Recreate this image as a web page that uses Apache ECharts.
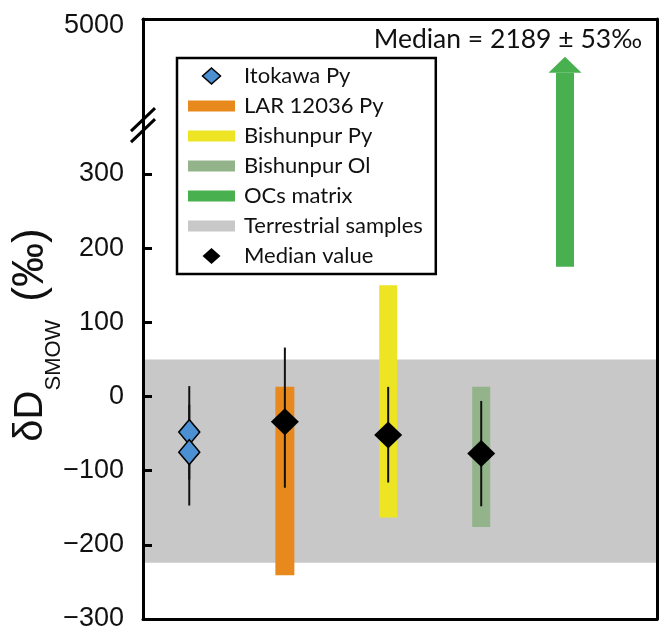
<!DOCTYPE html>
<html>
<head>
<meta charset="utf-8">
<script src="https://cdn.jsdelivr.net/npm/echarts@6/dist/echarts.min.js"></script>
<style>html,body{margin:0;padding:0;background:#fff}#c{width:660px;height:630px}</style>
</head>
<body>
<div id="c"></div>
<script>
// ---- data ----
const categories = ['Itokawa Py', 'LAR 12036 Py', 'Bishunpur Py', 'Bishunpur Ol', 'OCs matrix'];
const sampleX = [0.9, 2.76, 4.77, 6.58, 8.21];           // x position of each sample (axis units)
const itokawaY = [-48, -75];                              // Itokawa individual values
const itokawaErr = [[-112, 14], [-147, -11]];            // Itokawa error ranges
const rangeLAR = [-241, 13];
const rangeBishPy = [-163, 150];
const rangeBishOl = [-176, 13];
const ocsArrow = [175, 458];                               // arrow base and tip (display units)
const medianY = [-34, -52, -77];                           // LAR, Bishunpur Py, Bishunpur Ol
const medianErr = [[-123, 66], [-116, 13], [-148, -6]];
const terrestrial = [-224, 50];
const yTickValues = [-200, -100, 0, 100, 200, 300];
const yLabelValues = [-300, -200, -100, 0, 100, 200, 300, 500];
const yTopLabel = '5000';
const yBreakAt = 366;
const medianNote = 'Median = 2189 ± 53‰';

const C = {
  blue: '#4A90D2', orange: '#E8891E', yellow: '#EDE524', olive: '#93B48B',
  green: '#48B04F', gray: '#C8C8C8'
};

const chart = echarts.init(document.getElementById('c'));

function rangeRender(width) {
  return function (params, api) {
    const x = api.value(0), lo = api.value(1), hi = api.value(2);
    const p1 = api.coord([x, hi]), p2 = api.coord([x, lo]);
    return { type: 'rect', shape: { x: p1[0] - width / 2, y: p1[1], width: width, height: p2[1] - p1[1] },
      style: { fill: api.visual('color') } };
  };
}

const lineCol = '#111';
const errData = [
  [sampleX[0], itokawaErr[0][0], itokawaErr[0][1]],
  [sampleX[0], itokawaErr[1][0], itokawaErr[1][1]],
  [sampleX[1], medianErr[0][0], medianErr[0][1]],
  [sampleX[2], medianErr[1][0], medianErr[1][1]],
  [sampleX[3], medianErr[2][0], medianErr[2][1]]
];

const barIcon = 'path://M0,0h47v11h-47z';
const diaIcon = 'path://M0,-8L9,0L0,8L-9,0Z';

const option = {
  animation: false,
  grid: { left: 143, right: 3, top: 19, bottom: 11, show: false, containLabel: false, outerBoundsMode: 'none' },
  title: {
    text: medianNote, right: 13, top: 21,
    textStyle: { fontFamily: 'Lato', fontSize: 26.5, fontWeight: 'normal', color: '#111' }
  },
  legend: {
    orient: 'vertical', left: 177, top: 58,
    padding: [6, 13, 6, 11],
    itemWidth: 47, itemHeight: 16, itemGap: 6,
    backgroundColor: '#fff', borderColor: '#000', borderWidth: 2.5,
    selectedMode: false,
    textStyle: { fontFamily: 'Lato', fontSize: 22, color: '#111', lineHeight: 24, padding: [0, 0, 0, 4] },
    data: [
      { name: 'Itokawa Py', icon: diaIcon, itemStyle: { color: C.blue, borderColor: '#000', borderWidth: 1.5, opacity: 1 } },
      { name: 'LAR 12036 Py', icon: barIcon },
      { name: 'Bishunpur Py', icon: barIcon },
      { name: 'Bishunpur Ol', icon: barIcon },
      { name: 'OCs matrix', icon: barIcon },
      { name: 'Terrestrial samples', icon: barIcon },
      { name: 'Median value', icon: diaIcon, itemStyle: { color: '#000', borderWidth: 0, opacity: 1 } }
    ]
  },
  xAxis: [
    { type: 'value', min: 0, max: 10, position: 'bottom', z: 10,
      axisLine: { show: true, onZero: false, lineStyle: { color: '#000', width: 3 } },
      axisTick: { show: false }, axisLabel: { show: false }, splitLine: { show: false } },
    { type: 'value', min: 0, max: 10, position: 'top', z: 10,
      axisLine: { show: true, onZero: false, lineStyle: { color: '#000', width: 3 } },
      axisTick: { show: false }, axisLabel: { show: false }, splitLine: { show: false } }
  ],
  yAxis: [
    { type: 'value', min: -300, max: 509, interval: 100, position: 'left', z: 10,
      axisLine: { show: true, onZero: false, lineStyle: { color: '#000', width: 3 } },
      axisTick: { show: true, inside: true, length: 9, customValues: yTickValues, lineStyle: { color: '#000', width: 3 } },
      axisLabel: {
        show: true, margin: 19, customValues: yLabelValues,
        fontFamily: 'Liberation Sans', fontSize: 27, color: '#111',
        formatter: function (v) { return v === 500 ? yTopLabel : String(v).replace('-', '\u2212'); }
      },
      splitLine: { show: false },
      name: '{d|δD}{s|SMOW}{g|}{p|(‰)}',
      nameLocation: 'middle', nameGap: 78, nameRotate: 90, nameMoveOverlap: false,
      nameTextStyle: {
        padding: [0, 32, 0, 0],
        rich: {
          d: { fontFamily: 'Liberation Sans', fontSize: 40, color: '#111', verticalAlign: 'bottom', padding: [0, 0, 14, 0] },
          p: { fontFamily: 'Liberation Sans', fontSize: 44, color: '#111', verticalAlign: 'bottom', padding: [0, 0, 12, 0] },
          s: { fontFamily: 'Liberation Sans', fontSize: 22, color: '#111', verticalAlign: 'bottom' },
          g: { width: 18, height: 10 }
        }
      }
    },
    { type: 'value', min: -300, max: 509, interval: 100, position: 'right', z: 10,
      axisLine: { show: true, onZero: false, lineStyle: { color: '#000', width: 3 } },
      axisTick: { show: false }, axisLabel: { show: false }, splitLine: { show: false } }
  ],
  series: [
    { name: 'Terrestrial samples', type: 'custom', z: 1, itemStyle: { color: C.gray },
      renderItem: function (params, api) {
        const cs = params.coordSys;
        const pTop = api.coord([0, api.value(1)]), pBot = api.coord([0, api.value(0)]);
        return { type: 'rect', shape: { x: cs.x, y: pTop[1], width: cs.width, height: pBot[1] - pTop[1] },
          style: { fill: api.visual('color') } };
      },
      encode: { x: -1, y: [0, 1] },
      data: [[terrestrial[0], terrestrial[1]]] },
    { name: 'LAR 12036 Py', type: 'custom', z: 2, itemStyle: { color: C.orange }, renderItem: rangeRender(19),
      encode: { x: 0, y: [1, 2] }, data: [[sampleX[1], rangeLAR[0], rangeLAR[1]]] },
    { name: 'Bishunpur Py', type: 'custom', z: 2, itemStyle: { color: C.yellow }, renderItem: rangeRender(18),
      encode: { x: 0, y: [1, 2] }, data: [[sampleX[2], rangeBishPy[0], rangeBishPy[1]]] },
    { name: 'Bishunpur Ol', type: 'custom', z: 2, itemStyle: { color: C.olive }, renderItem: rangeRender(18),
      encode: { x: 0, y: [1, 2] }, data: [[sampleX[3], rangeBishOl[0], rangeBishOl[1]]] },
    { name: 'OCs matrix', type: 'custom', z: 2, itemStyle: { color: C.green },
      renderItem: function (params, api) {
        const x = api.value(0);
        const pb = api.coord([x, api.value(1)]), pt = api.coord([x, api.value(2)]);
        const bw = 18, hw = 33, hh = 16;
        return { type: 'group', children: [
          { type: 'rect', shape: { x: pb[0] - bw / 2, y: pt[1] + hh, width: bw, height: pb[1] - pt[1] - hh },
            style: { fill: api.visual('color') } },
          { type: 'polygon', shape: { points: [[pt[0], pt[1]], [pt[0] + hw / 2, pt[1] + hh], [pt[0] - hw / 2, pt[1] + hh]] },
            style: { fill: api.visual('color') } }
        ] };
      },
      encode: { x: 0, y: [1, 2] }, data: [[sampleX[4], ocsArrow[0], ocsArrow[1]]] },
    { name: 'errors', type: 'custom', z: 3,
      renderItem: function (params, api) {
        const x = api.value(0);
        const a = api.coord([x, api.value(1)]), b = api.coord([x, api.value(2)]);
        return { type: 'line', shape: { x1: a[0], y1: a[1], x2: b[0], y2: b[1] },
          style: { stroke: lineCol, lineWidth: 2 } };
      },
      encode: { x: 0, y: [1, 2] }, data: errData },
    { name: 'Itokawa Py', type: 'scatter', z: 4, symbol: 'diamond', symbolSize: [21, 25],
      itemStyle: { color: C.blue, borderColor: '#000', borderWidth: 1.5, opacity: 1 },
      data: itokawaY.map(function (v) { return [sampleX[0], v]; }) },
    { name: 'Median value', type: 'scatter', z: 4, symbol: 'diamond', symbolSize: [28, 27],
      itemStyle: { color: '#000', opacity: 1 },
      data: medianY.map(function (v, i) { return [sampleX[i + 1], v]; }) }
  ]
};
chart.setOption(option);

// axis break marks on the y axis
const bp = chart.convertToPixel({ xAxisIndex: 0, yAxisIndex: 0 }, [0, yBreakAt]);
const bx = bp[0], by = bp[1];
chart.setOption({
  graphic: [
    { type: 'line', z: 100, shape: { x1: bx - 12, y1: by + 5.5 + 11.5, x2: bx + 12, y2: by + 5.5 - 11.5 }, style: { stroke: '#000', lineWidth: 3 } },
    { type: 'line', z: 100, shape: { x1: bx - 12, y1: by - 5.5 + 11.5, x2: bx + 12, y2: by - 5.5 - 11.5 }, style: { stroke: '#000', lineWidth: 3 } }
  ]
});
</script>
</body>
</html>
